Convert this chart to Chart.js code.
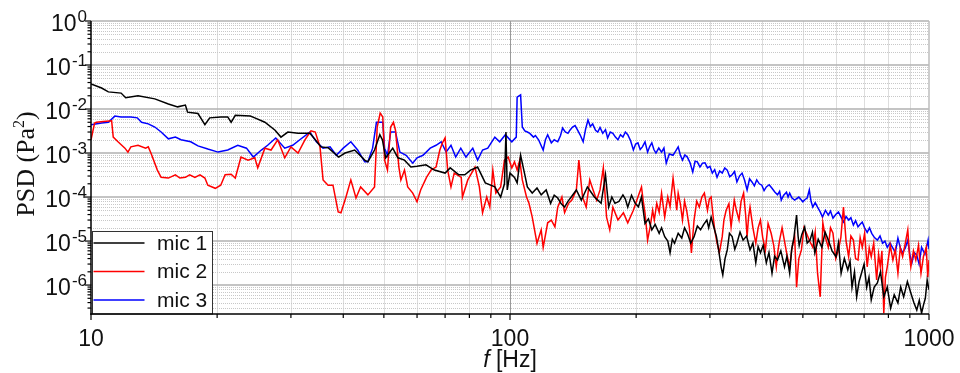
<!DOCTYPE html>
<html>
<head>
<meta charset="utf-8">
<script src="https://cdn.jsdelivr.net/npm/chart.js@4.4.0/dist/chart.umd.min.js"></script>
<style>
  body { margin: 0; background: #fff; }
  #wrap { position: relative; width: 960px; height: 373px; }
</style>
</head>
<body>
<div id="wrap"><canvas id="psdChart"></canvas></div>
<script>
// PSD spectra of the three microphones, f in Hz, PSD in Pa^2
const mic1Freq = [
  10, 10.6, 11, 11.8, 12.1, 12.95, 14.2, 15.3, 16.1, 16.8,
  17, 18, 18.7, 19.2, 20.4, 21.2, 21.6, 22.1, 24, 24.6,
  26, 27.5, 28.4, 29.5, 31.2, 33.3, 34.3, 35.4, 36.8, 39,
  40.4, 42.6, 45, 45.8, 47.5, 48.9, 49.6, 50.5, 52.5, 54,
  56, 58, 60, 63, 66, 70, 72, 75.5, 78, 80.5,
  83.7, 87.3, 92, 95, 97, 97.8, 98.5, 100, 102.5, 104,
  106, 108.5, 110, 113, 116, 118.7, 122, 125, 127.5, 130,
  132.5, 135, 137.5, 140, 144, 148, 150.5, 153, 156, 159,
  162, 165, 169, 172, 175, 178, 182, 186, 188.5, 191,
  195, 199, 202.5, 206, 208, 210, 214, 218, 222, 227,
  230, 234, 238, 241, 244, 247, 252, 257, 261, 265,
  270, 275, 280, 285, 290, 295, 298, 302, 306, 311,
  315, 319, 322, 326, 330, 334, 339, 344, 348, 354,
  360, 367, 374, 380, 386, 391, 396, 402, 409, 415,
  422, 428, 435, 443, 452, 458, 465, 470, 476, 483,
  487, 490, 497, 505, 512, 520, 527, 534, 544, 555,
  565, 575, 587, 600, 608, 617, 628, 640, 648, 655,
  664, 672, 681, 690, 700, 710, 719, 728, 740, 753,
  766, 780, 795, 810, 826, 843, 856, 870, 888, 905,
  920, 935, 948, 960, 970, 980, 990, 1000
];
const mic1Psd = [
  3.7e-2, 3.0e-2, 2.45e-2, 2.3e-2, 1.8e-2, 2.0e-2, 1.7e-2, 1.3e-2, 1.12e-2, 1.23e-2,
  8.5e-3, 7.9e-3, 4.4e-3, 6.3e-3, 6.6e-3, 6.6e-3, 5.0e-3, 7.2e-3, 6.9e-3, 6.3e-3,
  5.0e-3, 3.3e-3, 2.3e-3, 3.0e-3, 2.8e-3, 2.8e-3, 2.0e-3, 1.38e-3, 1.32e-3, 8.1e-4,
  1.0e-3, 1.17e-3, 6.9e-4, 6.3e-4, 1.17e-3, 2.6e-3, 2.0e-3, 7.8e-4, 1.29e-3, 7.8e-4,
  6.9e-4, 4.8e-4, 5.0e-4, 5.4e-4, 4.1e-4, 3.5e-4, 4.6e-4, 3.2e-4, 3.2e-4, 4.1e-4,
  4.8e-4, 2.1e-4, 1.7e-4, 1.0e-4, 2.0e-4, 3.0e-3, 1.45e-4, 3.5e-4, 2.8e-4, 2.1e-4,
  8.9e-4, 3.2e-4, 1.7e-4, 1.23e-4, 1.6e-4, 1.12e-4, 1.45e-4, 7.2e-5, 1.1e-4, 9.5e-5,
  7.0e-5, 5.9e-5, 8.0e-5, 1.0e-4, 1.45e-4, 8.5e-5, 1.2e-4, 1.7e-4, 1.3e-4, 1.0e-4,
  8.5e-5, 7.2e-5, 3.2e-4, 5.9e-5, 1.0e-4, 7.2e-5, 8.0e-5, 1.12e-4, 9.0e-5, 5.9e-5,
  1.1e-4, 7.2e-5, 6.0e-5, 1.0e-4, 5.0e-5, 2.5e-5, 3.2e-5, 1.8e-5, 2.4e-5, 1.5e-5,
  2.0e-5, 1.26e-5, 1.0e-5, 5.4e-6, 1.1e-5, 8.9e-6, 1.5e-5, 1.17e-5, 2.0e-5, 1.5e-5,
  9.0e-6, 1.26e-5, 2.2e-5, 1.8e-5, 2.4e-5, 3.0e-5, 2.0e-5, 3.5e-5, 2.2e-5, 1.26e-5,
  6.0e-6, 2.6e-6, 1.7e-6, 4.0e-6, 6.3e-6, 1.5e-5, 1.26e-5, 6.5e-6, 8.9e-6, 1.6e-5,
  1.05e-5, 1.3e-5, 6.3e-6, 9.0e-6, 3.2e-6, 7.5e-6, 5.4e-6, 8.0e-6, 3.2e-6, 5.5e-6,
  1.86e-6, 4.5e-6, 3.7e-6, 6.0e-6, 2.6e-6, 4.5e-6, 1.86e-6, 6.3e-6, 1.2e-5, 3.9e-5,
  1.3e-5, 7.9e-6, 1.4e-5, 2.1e-5, 9.0e-6, 1.05e-5, 1.6e-5, 5.4e-6, 1.1e-5, 7.2e-6,
  1.6e-5, 1.05e-5, 6.0e-6, 4.4e-6, 9.0e-6, 1.86e-6, 4.0e-6, 2.2e-6, 3.5e-6, 8.9e-7,
  2.0e-6, 5.4e-7, 1.2e-6, 1.86e-6, 3.0e-6, 8.9e-7, 1.5e-6, 4.6e-7, 9.0e-7, 1.12e-6,
  2.0e-6, 5.4e-7, 9.0e-7, 3.0e-7, 6.0e-7, 3.9e-7, 9.0e-7, 5.4e-7, 1.2e-6, 6.6e-7,
  4.0e-7, 2.7e-7, 4.5e-7, 2.3e-7, 3.5e-7, 5.0e-7, 1.3e-6, 7.8e-7
];

const mic2Freq = [
  10, 10.2, 10.3, 10.7, 11.2, 11.3, 11.6, 12.05, 12.25, 12.45,
  12.95, 13.5, 13.7, 13.9, 14.4, 14.7, 15.3, 15.9, 16.3, 16.8,
  17.2, 17.7, 18.2, 18.7, 19, 19.8, 20.4, 20.9, 21.6, 22.1,
  22.8, 23.7, 24.6, 25, 26, 26.9, 27.9, 29, 30, 31.2,
  32.4, 33.5, 34.3, 35.2, 35.8, 36.8, 37.8, 38.9, 39.5, 40.6,
  41.7, 42.9, 44, 45.8, 47.5, 48.2, 49, 49.7, 50.2, 51,
  51.9, 52.7, 53.3, 54.3, 54.9, 56, 57, 58.6, 60, 61.2,
  63.2, 64.8, 66.6, 68, 69, 70, 71, 72.3, 73.6, 76.5,
  77, 79.3, 82.5, 84.5, 86, 88, 89.5, 91, 92.5, 95,
  97, 99, 101, 102.5, 104, 105.5, 107, 109.5, 111, 113,
  116, 118.7, 120, 123, 125.5, 128, 130, 133, 135, 138,
  140.5, 144, 146, 149, 152, 155, 157, 161, 164, 167,
  170, 173, 176, 181, 186.5, 191, 197, 202, 206, 208,
  210, 213, 216, 219, 221, 224, 227, 230, 234, 238,
  241, 245, 248, 250, 252, 255, 258, 261, 264, 268,
  271, 275, 279, 283, 287, 291, 296, 299, 302, 305,
  308, 312, 316, 321, 324, 328, 333, 337, 343, 347,
  352, 356, 361, 365, 368, 371, 374, 380, 386, 391,
  396, 401, 407, 413, 420, 426, 432, 436, 440, 446,
  452, 458, 465, 471, 478, 483, 489, 496, 503, 510,
  519, 528, 535, 542, 550, 558, 566, 575, 582, 590,
  599, 608, 616, 625, 634, 643, 651, 660, 668, 677,
  685, 693, 702, 712, 720, 728, 738, 750, 758, 765,
  772, 780, 787, 795, 808, 820, 831, 843, 854, 865,
  878, 890, 898, 905, 918, 930, 944, 957, 970, 985,
  993, 1000
];
const mic2Psd = [
  2.0e-3, 4.8e-3, 5.0e-3, 5.2e-3, 5.4e-3, 2.3e-3, 1.8e-3, 1.29e-3, 1.05e-3, 1.38e-3,
  1.5e-3, 1.29e-3, 1.38e-3, 1.0e-3, 4.1e-4, 2.8e-4, 2.7e-4, 3.2e-4, 2.7e-4, 2.8e-4,
  3.2e-4, 2.8e-4, 3.2e-4, 2.7e-4, 1.86e-4, 1.58e-4, 1.86e-4, 3.2e-4, 3.3e-4, 2.7e-4,
  8.1e-4, 6.9e-4, 7.8e-4, 4.6e-4, 1.29e-3, 1.17e-3, 2.0e-3, 7.8e-4, 1.38e-3, 1.0e-3,
  2.0e-3, 3.2e-3, 3.0e-3, 1.38e-3, 2.45e-4, 1.86e-4, 1.86e-4, 4.6e-5, 4.4e-5, 1.0e-4,
  2.45e-4, 9.5e-5, 1.7e-4, 1.12e-4, 1.7e-4, 3.9e-3, 8.1e-3, 6.6e-3, 6.9e-4, 4.1e-4,
  3.9e-3, 5.0e-3, 3.3e-3, 4.8e-4, 2.45e-4, 4.1e-4, 1.7e-4, 1.23e-4, 7.8e-5, 1.45e-4,
  2.8e-4, 4.1e-4, 4.8e-4, 1.17e-3, 1.7e-3, 2.2e-3, 4.1e-4, 1.7e-4, 3.5e-4, 2.8e-4,
  1.0e-4, 2.45e-4, 4.8e-4, 1.7e-4, 4.4e-5, 1.0e-4, 5.9e-5, 4.1e-4, 1.23e-4, 1.7e-4,
  6.9e-4, 8.1e-4, 4.6e-4, 6.3e-4, 4.1e-4, 6.9e-4, 2.45e-4, 1.0e-4, 7.2e-5, 3.5e-5,
  8.9e-6, 1.8e-5, 7.2e-6, 2.6e-5, 3.0e-5, 2.1e-5, 5.9e-5, 1.0e-4, 4.4e-5, 7.2e-5,
  8.5e-5, 1.45e-4, 6.9e-4, 1.0e-4, 5.9e-5, 2.45e-4, 1.7e-4, 8.5e-5, 1.45e-4, 4.6e-4,
  3.5e-5, 1.8e-5, 5.9e-5, 3.0e-5, 4.4e-5, 2.6e-5, 5.0e-5, 1.0e-4, 1.7e-4, 8.0e-5,
  4.4e-5, 1.05e-5, 2.1e-5, 5.0e-5, 3.0e-5, 7.2e-5, 4.5e-5, 1.23e-4, 3.5e-5, 1.0e-4,
  6.0e-5, 2.7e-4, 1.0e-4, 5.0e-5, 1.23e-4, 7.0e-5, 3.0e-5, 8.0e-5, 5.0e-5, 2.0e-5,
  5.4e-6, 3.0e-5, 8.0e-5, 5.9e-5, 1.0e-4, 1.23e-4, 5.0e-5, 9.0e-5, 1.0e-4, 4.0e-5,
  1.8e-5, 9.0e-6, 5.4e-6, 1.26e-5, 3.0e-5, 5.0e-5, 7.0e-5, 2.1e-5, 8.5e-5, 5.0e-5,
  3.0e-5, 8.0e-5, 1.23e-4, 4.0e-5, 1.26e-5, 3.5e-5, 5.9e-5, 2.0e-5, 8.9e-6, 2.0e-5,
  3.0e-5, 1.2e-5, 6.3e-6, 2.5e-5, 1.5e-5, 8.0e-6, 2.6e-6, 6.0e-6, 1.05e-5, 2.0e-5,
  1.0e-5, 5.0e-6, 2.6e-6, 7.0e-6, 1.26e-5, 8.9e-7, 4.0e-6, 6.3e-6, 2.0e-5, 1.5e-5,
  1.0e-5, 7.2e-6, 1.6e-5, 1.86e-6, 5.4e-7, 2.6e-5, 1.2e-5, 7.2e-6, 2.0e-5, 1.5e-5,
  4.0e-6, 6.3e-6, 1.2e-5, 5.9e-5, 1.0e-5, 4.4e-6, 1.3e-5, 1.05e-5, 4.0e-6, 3.7e-6,
  1.2e-5, 7.2e-6, 1.5e-5, 2.6e-6, 7.0e-6, 4.4e-6, 9.0e-6, 1.3e-6, 5.0e-6, 2.6e-6,
  6.0e-6, 2.3e-7, 1.5e-6, 2.6e-6, 8.0e-6, 3.7e-6, 6.5e-6, 1.86e-6, 7.0e-6, 4.4e-6,
  9.0e-6, 1.8e-5, 5.0e-6, 2.6e-6, 6.0e-6, 3.7e-6, 8.0e-6, 1.86e-6, 4.5e-6, 7.2e-6,
  1.5e-6, 3.7e-6
];

const mic3Freq = [
  10, 10.6, 11, 11.4, 11.8, 12.45, 12.9, 13.2, 13.7, 14.2,
  14.7, 15.3, 15.9, 16.4, 17.3, 18, 19, 20.1, 21.2, 22.4,
  23.5, 24.4, 25.5, 26.4, 27.6, 29, 30.3, 31.5, 33.3, 34.5,
  35.8, 37.2, 38.5, 40, 41.7, 43.3, 45, 45.8, 47, 48,
  49.7, 50.2, 51, 51.9, 53.3, 54.6, 56.5, 58.6, 60, 62,
  64.5, 66.6, 68.5, 70.4, 72.3, 74.2, 76.3, 78.5, 81.5, 83.7,
  86, 88.5, 92, 94.5, 97.5, 101, 103.5, 104, 106, 107,
  108.5, 110, 111.5, 113.8, 115, 117, 120, 121.5, 123, 125.5,
  127.5, 130, 132, 133.5, 135.5, 137.5, 139, 141, 143, 145,
  147, 149.5, 151.5, 153.5, 155.5, 157.5, 160, 162, 164, 166.5,
  169, 171, 173.5, 176, 178.5, 181, 183.5, 186, 188.5, 191,
  194, 197, 199.5, 202, 204.5, 207, 210, 213, 215.5, 218,
  220.5, 223, 226.5, 230, 233, 236, 240, 245, 248.5, 252,
  255, 258, 261.5, 265, 269, 273, 276.5, 280, 284, 288,
  292, 296, 300, 304, 308, 312, 316.5, 321, 325.5, 330,
  334.5, 339, 343.5, 348, 353, 358, 363, 368, 373, 378,
  383, 388, 393.5, 399, 404, 409, 415.5, 422, 428.5, 435,
  440, 444, 450, 457, 461, 465, 471, 478, 489, 500,
  506, 512, 518, 523, 528, 535, 542, 550, 557, 566,
  575, 582, 590, 599, 608, 616, 625, 634, 643, 651,
  660, 668, 677, 685, 693, 702, 712, 721, 730, 741,
  753, 764, 775, 785, 795, 807, 820, 831, 843, 854,
  865, 878, 890, 900, 910, 922, 935, 947, 960, 978,
  995, 1000
];
const mic3Psd = [
  4.4e-3, 4.8e-3, 5.0e-3, 6.9e-3, 6.6e-3, 6.6e-3, 6.3e-3, 5.0e-3, 4.6e-3, 3.9e-3,
  3.0e-3, 2.1e-3, 2.3e-3, 2.0e-3, 1.8e-3, 1.45e-3, 1.23e-3, 1.05e-3, 1.17e-3, 1.5e-3,
  1.29e-3, 8.1e-4, 1.17e-3, 1.5e-3, 2.2e-3, 1.29e-3, 1.5e-3, 2.0e-3, 3.0e-3, 1.8e-3,
  1.29e-3, 1.38e-3, 8.9e-4, 1.29e-3, 1.8e-3, 1.17e-3, 6.3e-4, 6.3e-4, 1.29e-3, 5.0e-3,
  5.0e-3, 1.29e-3, 8.9e-4, 3.0e-3, 3.0e-3, 1.05e-3, 8.9e-4, 5.9e-4, 7.8e-4, 8.9e-4,
  1.29e-3, 1.5e-3, 1.8e-3, 1.05e-3, 1.5e-3, 8.1e-4, 1.29e-3, 8.1e-4, 1.29e-3, 6.9e-4,
  1.17e-3, 1.29e-3, 2.3e-3, 1.8e-3, 2.6e-3, 1.8e-3, 2.3e-3, 1.86e-2, 2.1e-2, 3.9e-3,
  3.2e-3, 3.0e-3, 2.8e-3, 2.3e-3, 2.5e-3, 2.0e-3, 1.17e-3, 2.0e-3, 2.6e-3, 1.7e-3,
  2.0e-3, 1.8e-3, 2.5e-3, 3.7e-3, 3.0e-3, 2.8e-3, 3.3e-3, 3.9e-3, 4.2e-3, 3.3e-3,
  2.6e-3, 1.8e-3, 3.5e-3, 5.6e-3, 4.0e-3, 4.6e-3, 3.3e-3, 3.0e-3, 3.8e-3, 2.8e-3,
  3.4e-3, 2.2e-3, 3.0e-3, 2.8e-3, 2.3e-3, 2.0e-3, 2.6e-3, 2.3e-3, 3.0e-3, 2.6e-3,
  1.9e-3, 1.17e-3, 1.6e-3, 1.7e-3, 1.2e-3, 1.38e-3, 1.8e-3, 1.05e-3, 1.4e-3, 1.7e-3,
  1.2e-3, 1.0e-3, 1.3e-3, 1.05e-3, 1.3e-3, 5.9e-4, 9.5e-4, 8.9e-4, 1.1e-3, 1.38e-3,
  9.0e-4, 6.9e-4, 9.0e-4, 8.1e-4, 6.0e-4, 3.7e-4, 6.5e-4, 6.3e-4, 4.8e-4, 5.9e-4,
  6.0e-4, 4.6e-4, 5.0e-4, 3.5e-4, 4.2e-4, 2.8e-4, 3.9e-4, 3.5e-4, 4.6e-4, 4.1e-4,
  2.9e-4, 3.2e-4, 3.8e-4, 2.2e-4, 3.0e-4, 3.5e-4, 2.4e-4, 1.45e-4, 2.6e-4, 2.2e-4,
  1.8e-4, 2.45e-4, 2.0e-4, 1.86e-4, 1.4e-4, 1.7e-4, 1.9e-4, 1.58e-4, 1.3e-4, 1.12e-4,
  1.35e-4, 8.5e-5, 1.1e-4, 1.29e-4, 1.0e-4, 1.23e-4, 9.5e-5, 8.5e-5, 1.0e-4, 7.8e-5,
  8.8e-5, 9.5e-5, 1.45e-4, 8.0e-5, 5.9e-5, 7.5e-5, 5.9e-5, 4.6e-5, 3.5e-5, 5.0e-5,
  3.9e-5, 4.8e-5, 3.3e-5, 4.0e-5, 4.6e-5, 3.6e-5, 2.7e-5, 3.6e-5, 3.0e-5, 3.4e-5,
  2.3e-5, 2.9e-5, 2.1e-5, 2.4e-5, 2.7e-5, 2.0e-5, 1.58e-5, 2.0e-5, 1.5e-5, 1.2e-5,
  1.05e-5, 1.3e-5, 8.9e-6, 1.0e-5, 7.2e-6, 9.0e-6, 6.9e-6, 5.5e-6, 1.17e-5, 7.0e-6,
  5.4e-6, 7.0e-6, 1.05e-5, 5.0e-6, 3.2e-6, 5.5e-6, 4.8e-6, 3.0e-6, 7.2e-6, 5.0e-6,
  1.05e-5, 6.5e-6
];

const seriesLabels = ['mic 1', 'mic 2', 'mic 3'];
const seriesColors = ['#000000', '#ff0000', '#0000ff'];

// axis ticks
const xTickValues = [10, 100, 1000];
const xTickLabels = ['10', '100', '1000'];
const xMinorDecades = [10, 100];
const yTickExponents = [0, -1, -2, -3, -4, -5, -6];
const minorSteps = [2, 3, 4, 5, 6, 7, 8, 9];

const SANS = '"Liberation Sans", Arial, sans-serif';
const SERIF = '"Liberation Serif", "Times New Roman", serif';

function toPoints(freq, psd) {
  return freq.map((f, i) => ({ x: f, y: psd[i] }));
}

function strokeLine(ctx, x1, y1, x2, y2) {
  ctx.beginPath();
  ctx.moveTo(x1, y1);
  ctx.lineTo(x2, y2);
  ctx.stroke();
}

// grid, axes, tick labels, titles and the boxed legend
const psdFrame = {
  id: 'psdFrame',
  beforeDatasetsDraw(chart) {
    const { ctx, chartArea: a, scales: { x, y } } = chart;
    ctx.save();

    ctx.lineWidth = 1;
    ctx.strokeStyle = '#dddddd';
    xMinorDecades.forEach(d => minorSteps.forEach(m => {
      const px = Math.round(x.getPixelForValue(m * d)) + 0.5;
      strokeLine(ctx, px, a.top, px, a.bottom);
    }));

    ctx.setLineDash([1, 1]);
    ctx.strokeStyle = '#c8c8c8';
    yTickExponents.forEach(e => minorSteps.forEach(m => {
      const v = m * Math.pow(10, e - 1);
      if (v <= y.min) return;
      const py = Math.round(y.getPixelForValue(v)) + 0.5;
      strokeLine(ctx, a.left, py, a.right, py);
    }));
    ctx.setLineDash([]);

    ctx.strokeStyle = '#b0b0b0';
    ctx.lineWidth = 1.5;
    yTickExponents.forEach(e => {
      const py = y.getPixelForValue(Math.pow(10, e));
      strokeLine(ctx, a.left, py, a.right, py);
    });

    ctx.strokeStyle = '#9a9a9a';
    ctx.lineWidth = 1;
    const p100 = Math.round(x.getPixelForValue(xTickValues[1])) + 0.5;
    strokeLine(ctx, p100, a.top, p100, a.bottom);

    ctx.strokeStyle = '#bdbdbd';
    ctx.lineWidth = 1.5;
    strokeLine(ctx, a.right, a.top, a.right, a.bottom);
    ctx.restore();
  },
  afterDatasetsDraw(chart) {
    const { ctx, chartArea: a, scales: { x, y } } = chart;
    ctx.save();

    // legend box in the lower left corner
    const lx = 92.5, ly = 231.5, lw = 120, lh = a.bottom - ly;
    ctx.fillStyle = '#ffffff';
    ctx.fillRect(lx, ly, lw, lh);
    ctx.strokeStyle = '#333333';
    ctx.lineWidth = 1;
    ctx.strokeRect(lx, ly, lw, lh);
    ctx.font = '21px ' + SANS;
    ctx.textBaseline = 'middle';
    ctx.textAlign = 'left';
    chart.data.datasets.forEach((ds, i) => {
      const rowY = 243 + i * 28.5;
      ctx.strokeStyle = ds.borderColor;
      ctx.lineWidth = 1.5;
      strokeLine(ctx, lx + 1, rowY, lx + 52, rowY);
      ctx.fillStyle = '#111111';
      ctx.fillText(ds.label, 157, rowY + 1);
    });

    // axis lines
    ctx.strokeStyle = '#000000';
    ctx.lineWidth = 1.5;
    strokeLine(ctx, a.left, a.top, a.left, a.bottom + 0.75);
    strokeLine(ctx, a.left - 0.75, a.bottom, a.right, a.bottom);

    // y ticks and labels
    ctx.lineWidth = 1.2;
    yTickExponents.forEach(e => {
      const py = y.getPixelForValue(Math.pow(10, e));
      strokeLine(ctx, a.left - 6, py, a.left, py);
      minorSteps.forEach(m => {
        const v = m * Math.pow(10, e - 1);
        if (v <= y.min) return;
        const pm = y.getPixelForValue(v);
        strokeLine(ctx, a.left - 3.5, pm, a.left, pm);
      });
    });
    ctx.fillStyle = '#111111';
    ctx.textBaseline = 'alphabetic';
    ctx.textAlign = 'left';
    yTickExponents.forEach(e => {
      const py = y.getPixelForValue(Math.pow(10, e));
      const sup = String(e);
      ctx.font = '17px ' + SANS;
      const supW = ctx.measureText(sup).width;
      ctx.font = '23px ' + SANS;
      const baseW = ctx.measureText('10').width;
      const right = 87;
      ctx.fillText('10', right - supW - baseW - 1, py + 10);
      ctx.font = '17px ' + SANS;
      ctx.fillText(sup, right - supW, py + 1);
    });

    // x ticks and labels
    ctx.lineWidth = 1.2;
    xTickValues.forEach(v => {
      const px = x.getPixelForValue(v);
      strokeLine(ctx, px, a.bottom, px, a.bottom + 6);
    });
    xMinorDecades.forEach(d => minorSteps.forEach(m => {
      const px = x.getPixelForValue(m * d);
      strokeLine(ctx, px, a.bottom, px, a.bottom + 4);
    }));
    ctx.font = '23px ' + SANS;
    ctx.textAlign = 'center';
    xTickValues.forEach((v, i) => {
      ctx.fillText(xTickLabels[i], x.getPixelForValue(v), 346);
    });

    // x title: italic f followed by the unit
    ctx.textAlign = 'left';
    ctx.font = 'italic 23px ' + SANS;
    const fW = ctx.measureText('f').width;
    ctx.font = '23px ' + SANS;
    const unitW = ctx.measureText(' [Hz]').width;
    const tx = x.getPixelForValue(100) - (fW + unitW) / 2;
    ctx.font = 'italic 23px ' + SANS;
    ctx.fillText('f', tx, 367);
    ctx.font = '23px ' + SANS;
    ctx.fillText(' [Hz]', tx + fW, 367);

    // y title, rotated
    ctx.translate(34, 164);
    ctx.rotate(-Math.PI / 2);
    ctx.font = '26px ' + SERIF;
    const partA = 'PSD (Pa';
    const partC = ')';
    const wA = ctx.measureText(partA).width;
    const wC = ctx.measureText(partC).width;
    ctx.font = '16px ' + SERIF;
    const wB = ctx.measureText('2').width;
    let cx = -(wA + wB + wC) / 2;
    ctx.font = '26px ' + SERIF;
    ctx.fillText(partA, cx, 0);
    cx += wA;
    ctx.font = '16px ' + SERIF;
    ctx.fillText('2', cx, -10);
    cx += wB;
    ctx.font = '26px ' + SERIF;
    ctx.fillText(partC, cx, 0);

    ctx.restore();
  }
};

new Chart(document.getElementById('psdChart'), {
  type: 'line',
  data: {
    datasets: [
      { label: seriesLabels[0], data: toPoints(mic1Freq, mic1Psd), borderColor: seriesColors[0] },
      { label: seriesLabels[1], data: toPoints(mic2Freq, mic2Psd), borderColor: seriesColors[1] },
      { label: seriesLabels[2], data: toPoints(mic3Freq, mic3Psd), borderColor: seriesColors[2] }
    ]
  },
  options: {
    responsive: true,
    maintainAspectRatio: false,
    animation: false,
    layout: { padding: { left: 91, right: 31, top: 21, bottom: 59 } },
    elements: {
      line: { borderWidth: 1.5, tension: 0 },
      point: { radius: 0 }
    },
    plugins: {
      legend: { display: false },
      tooltip: { enabled: false }
    },
    scales: {
      x: {
        type: 'logarithmic',
        min: 10,
        max: 1000,
        grid: { display: false },
        border: { display: false },
        ticks: { display: false },
        afterFit: s => { s.height = 0; }
      },
      y: {
        type: 'logarithmic',
        min: 2.2e-7,
        max: 1,
        grid: { display: false },
        border: { display: false },
        ticks: { display: false },
        afterFit: s => { s.width = 0; }
      }
    }
  },
  plugins: [psdFrame]
});
</script>
</body>
</html>
